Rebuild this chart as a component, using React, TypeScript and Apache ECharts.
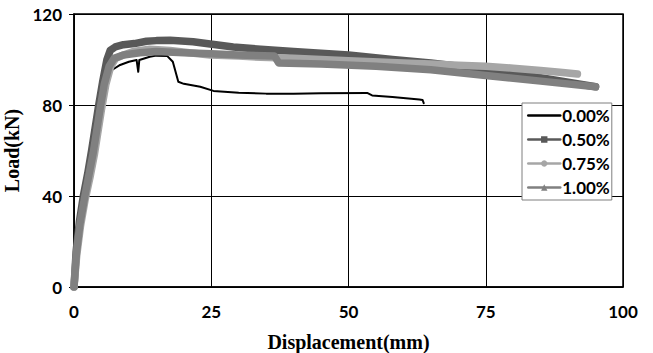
import React, { useEffect, useRef } from "react";
import * as echarts from "echarts";

const xTicks = [0, 25, 50, 75, 100];
const yTicks = [0, 40, 80, 120];

const seriesNames = ["0.00%", "0.50%", "0.75%", "1.00%"];

const s000: number[][] = [
  [0, 0], [0.4, 15], [1, 28], [1.8, 40], [2.6, 50], [3.3, 60], [4.6, 80], [5.3, 88],
  [6.2, 93], [7, 95.5], [8.4, 97.6], [10, 99], [11.4, 99.8], [11.7, 94.6], [11.9, 99.8],
  [13.8, 101.2], [15, 101.7], [17, 101.5], [18, 99], [19, 90.2], [20, 89.3], [23, 88],
  [25.4, 86.2], [30, 85.4], [35, 85], [40, 85], [45, 85.2], [53.4, 85.3], [54.3, 84.2],
  [58, 83.5], [62.9, 82.4], [63.5, 82.2], [63.7, 80.8],
];

const s050: number[][] = [
  [0, 0], [0.4, 16], [1, 29], [1.7, 40], [2.5, 50], [3.2, 60], [4.5, 80], [5.2, 90],
  [6, 100], [6.6, 104], [7.5, 105.5], [9, 106.5], [11, 107], [13.2, 108], [15, 108.3],
  [17.5, 108.5], [21.7, 107.8], [24.8, 106.8], [29, 105.5], [34, 104.5], [40, 103.5],
  [50, 102], [58, 100], [65, 98.5], [70, 97], [75, 95.5], [80, 94], [85, 92], [90, 90],
  [95, 88],
];

const s075: number[][] = [
  [0, 0], [0.5, 14], [1.2, 27], [2, 38], [2.9, 48], [3.7, 58], [5, 78], [5.8, 89],
  [6.7, 97], [7.6, 100.5], [9, 102], [10.8, 103.5], [13.8, 104.5], [17.5, 104],
  [21, 103], [24.8, 102], [30, 101.5], [34, 101], [40, 100.5], [50, 99.5], [60, 98.5],
  [65, 98], [70, 97.5], [75, 97], [80, 96.2], [85, 95.2], [89, 94.3], [91.7, 93.6],
];

const s100: number[][] = [
  [0, 0], [0.45, 15], [1.1, 28], [1.9, 39], [2.7, 49], [3.5, 59], [4.8, 79], [5.5, 89],
  [6.4, 97], [7.3, 100.5], [9, 102], [12, 103], [15, 103.5], [20, 103],
  [25, 102.5], [30, 102], [36.5, 101.5], [37.3, 98.5], [45, 98], [55, 97], [65, 95.5],
  [75, 93], [85, 90.5], [95, 88],
];

const colors = ["#000000", "#595959", "#a6a6a6", "#808080"];

export default function App() {
  const ref = useRef<HTMLDivElement>(null);
  useEffect(() => {
    if (!ref.current) return;
    const chart = echarts.init(ref.current, undefined, { renderer: "svg" });
    const tickFont = { fontFamily: "Lato", fontWeight: "bold" as const, fontSize: 17, color: "#000" };
    const titleFont = { fontFamily: "Liberation Serif", fontWeight: "bold" as const, fontSize: 20, color: "#000" };
    const datas = [s000, s050, s075, s100];
    const symbols = ["none", "rect", "circle", "triangle"];
    chart.setOption({
      animation: false,
      backgroundColor: "#fff",
      grid: {
        left: 74, top: 14, right: 30, bottom: 66, show: true, borderColor: "#000", borderWidth: 1.5,
        backgroundColor: "transparent", containLabel: false, outerBoundsMode: "none",
      },
      xAxis: {
        type: "value",
        min: xTicks[0],
        max: xTicks[xTicks.length - 1],
        interval: 25,
        axisLine: { show: true, lineStyle: { color: "#000", width: 1.5 } },
        axisTick: { show: false },
        splitLine: { show: true, lineStyle: { color: "#000", width: 1 } },
        axisLabel: { ...tickFont, margin: 16 },
        name: "Displacement(mm)",
        nameLocation: "middle",
        nameGap: 45,
        nameTextStyle: titleFont,
      },
      yAxis: {
        type: "value",
        min: yTicks[0],
        max: yTicks[yTicks.length - 1],
        interval: 40,
        axisLine: { show: true, lineStyle: { color: "#000", width: 1.5 } },
        axisTick: { show: true, length: 5, lineStyle: { color: "#000" } },
        splitLine: { show: true, lineStyle: { color: "#000", width: 1 } },
        axisLabel: { ...tickFont, margin: 12 },
        name: "Load(kN)",
        nameLocation: "middle",
        nameGap: 47,
        nameTextStyle: titleFont,
      },
      legend: {
        orient: "vertical",
        left: 522,
        top: 103,
        backgroundColor: "#fff",
        borderColor: "#7f7f7f",
        borderWidth: 1,
        padding: [4, 2, 4, 5],
        itemGap: 7,
        itemWidth: 32,
        itemHeight: 8,
        lineStyle: { width: 2.5 },
        textStyle: { ...tickFont, padding: [0, 0, 0, -3] },
        data: [
          { name: seriesNames[0], itemStyle: { opacity: 0 } },
          seriesNames[1],
          seriesNames[2],
          seriesNames[3],
        ],
      },
      series: seriesNames.map((n, i) => ({
        name: n,
        type: "line",
        data: datas[i],
        symbol: symbols[i],
        showSymbol: false,
        smooth: false,
        color: colors[i],
        lineStyle: { color: colors[i], width: i === 0 ? 2 : 7.5, join: "round", cap: "round" },
        itemStyle: { color: colors[i] },
        z: 2 + i,
      })),
    });
    return () => chart.dispose();
  }, []);
  return <div ref={ref} style={{ width: 653, height: 353, position: "absolute", left: 0, top: 0 }} />;
}
